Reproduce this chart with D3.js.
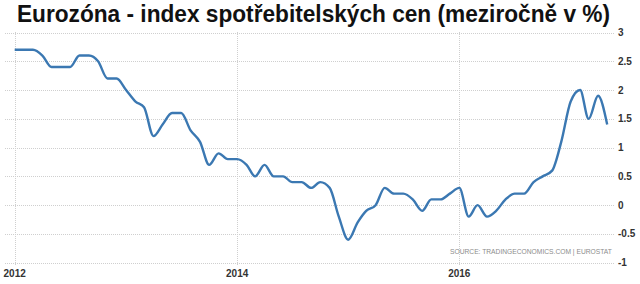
<!DOCTYPE html>
<html>
<head>
<meta charset="utf-8">
<script src="https://cdn.jsdelivr.net/npm/d3@7"></script>
<style>
  body { margin: 0; background: #fff; }
  svg { display: block; }
</style>
</head>
<body>
<script>
// monthly values, Jan 2012 .. May 2017
var months = [];
for (var y = 2012; y <= 2017; y++) {
  for (var m = 1; m <= 12; m++) {
    if (y == 2017 && m > 5) break;
    months.push(y + '-' + (m < 10 ? '0' + m : m));
  }
}
var cpi = [
  2.7, 2.7, 2.7, 2.6, 2.4, 2.4, 2.4, 2.6, 2.6, 2.5, 2.2, 2.2,
  2.0, 1.8, 1.7, 1.2, 1.4, 1.6, 1.6, 1.3, 1.1, 0.7, 0.9, 0.8,
  0.8, 0.7, 0.5, 0.7, 0.5, 0.5, 0.4, 0.4, 0.3, 0.4, 0.3, -0.2,
  -0.6, -0.3, -0.1, 0.0, 0.3, 0.2, 0.2, 0.1, -0.1, 0.1, 0.1, 0.2,
  0.3, -0.2, 0.0, -0.2, -0.1, 0.1, 0.2, 0.2, 0.4, 0.5, 0.6, 1.1,
  1.8, 2.0, 1.5, 1.9, 1.4
];
var yTicks = [-1, -0.5, 0, 0.5, 1, 1.5, 2, 2.5, 3];
var xTicks = ['2012', '2014', '2016'];
var title = 'Eurozóna - index spotřebitelských cen (meziročně v %)';
var source = 'SOURCE: TRADINGECONOMICS.COM | EUROSTAT';

var W = 640, H = 284;
var parse = d3.timeParse('%Y-%m');
var data = months.map(function(d, i){ return {date: parse(d), v: cpi[i]}; });

var x = d3.scaleTime()
  .domain([parse('2012-01'), parse('2016-01')])
  .range([14.7, 459.3]);
var y = d3.scaleLinear().domain([-1, 3]).range([262.7, 32.5]);

var svg = d3.select('body').append('svg')
  .attr('width', W).attr('height', H);

// horizontal grid + right labels
svg.append('g').selectAll('line').data(yTicks).join('line')
  .attr('x1', 5).attr('x2', 614)
  .attr('y1', function(d){ return Math.round(y(d)) + 0.5; })
  .attr('y2', function(d){ return Math.round(y(d)) + 0.5; })
  .attr('stroke', '#cfcfcf').attr('stroke-dasharray', '1,1');

svg.append('g').selectAll('text').data(yTicks).join('text')
  .attr('x', 618).attr('y', function(d){ return y(d) + 3.5; })
  .attr('font-family', 'Liberation Sans, Arial, sans-serif')
  .attr('font-size', 10).attr('font-weight', 'bold').attr('fill', '#333')
  .text(function(d){ return d; });

// vertical grid + year labels
svg.append('g').selectAll('line').data(xTicks).join('line')
  .attr('x1', function(d){ return Math.round(x(parse(d + '-01'))) + 0.5; })
  .attr('x2', function(d){ return Math.round(x(parse(d + '-01'))) + 0.5; })
  .attr('y1', 32).attr('y2', 266)
  .attr('stroke', '#cfcfcf').attr('stroke-dasharray', '1,1');

svg.append('g').selectAll('text').data(xTicks).join('text')
  .attr('x', function(d){ return x(parse(d + '-01')); })
  .attr('y', 277).attr('text-anchor', 'middle')
  .attr('font-family', 'Liberation Sans, Arial, sans-serif')
  .attr('font-size', 10).attr('font-weight', 'bold').attr('fill', '#333')
  .text(function(d){ return d; });

// the series
var line = d3.line()
  .x(function(d){ return x(d.date); })
  .y(function(d){ return y(d.v); })
  .curve(d3.curveMonotoneX);

svg.append('path').datum(data)
  .attr('d', line)
  .attr('fill', 'none')
  .attr('stroke', '#3b78b2')
  .attr('stroke-width', 2.4)
  .attr('stroke-linejoin', 'round');

// source note: size it so it spans ~162px without squeezing
var src = svg.append('text')
  .attr('x', 450).attr('y', 254)
  .attr('font-family', 'Liberation Sans Narrow, Liberation Sans, Arial, sans-serif')
  .attr('font-size', 8).attr('fill', '#8c8c8c')
  .text(source);
var len = src.node().getComputedTextLength();
if (len > 0) src.attr('font-size', (8 * 162 / len).toFixed(2));

svg.append('text')
  .attr('x', 17).attr('y', 22)
  .attr('font-family', 'Liberation Sans, Arial, sans-serif')
  .attr('font-size', 23).attr('font-weight', 'bold').attr('fill', '#111')
  .attr('textLength', 593).attr('lengthAdjust', 'spacingAndGlyphs')
  .text(title);
</script>
</body>
</html>
